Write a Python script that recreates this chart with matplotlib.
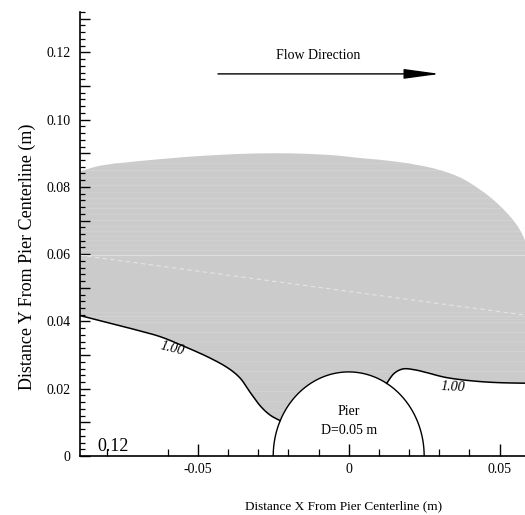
import numpy as np
import matplotlib
matplotlib.use("Agg")
import matplotlib.pyplot as plt
from matplotlib.patches import Polygon

plt.rcParams['font.family'] = ['Liberation Serif', 'DejaVu Serif']

# ---- data ----
upper_x = [-0.0892, -0.0823, -0.0714, -0.0592, -0.0492, -0.0360, -0.0261, -0.0161,
           -0.0050, 0.0037, 0.0120, 0.0203, 0.0290, 0.0369, 0.0435, 0.0491,
           0.0544, 0.0577, 0.0600, 0.0615]
upper_y = [0.0845, 0.0863, 0.0875, 0.0885, 0.0892, 0.0898, 0.0900, 0.0899,
           0.0894, 0.0886, 0.0879, 0.0869, 0.0853, 0.0828, 0.0792, 0.0752,
           0.0702, 0.0655, 0.0595, 0.0500]

left_x = [-0.0892, -0.0823, -0.0713, -0.0625, -0.0548, -0.0470, -0.0404, -0.0360,
          -0.0327, -0.0294, -0.0261, -0.0227]
left_y = [0.0418, 0.0402, 0.0377, 0.0355, 0.0327, 0.0296, 0.0264, 0.0232,
          0.0190, 0.0150, 0.0122, 0.0105]

right_x = [0.0126, 0.0150, 0.0181, 0.0220, 0.0258, 0.0325, 0.0413, 0.0501, 0.0620]
right_y = [0.0216, 0.0245, 0.0259, 0.0256, 0.0248, 0.0233, 0.0223, 0.0218, 0.0216]

pier_d = 0.05

streak_y = [0.0612, 0.0626, 0.0641, 0.0655, 0.0668, 0.0684, 0.0702, 0.0718,
            0.0736, 0.0751, 0.0768, 0.0786, 0.0805, 0.0828, 0.0850, 0.0872,
            0.0398, 0.0407, 0.0416, 0.0428, 0.0368, 0.0342, 0.0312, 0.0283,
            0.0252, 0.0224, 0.0192, 0.0163, 0.0138]

dash_x = [-0.0892, 0.0584]
dash_y = [0.0597, 0.0419]

x_ticks_major = [-0.05, 0.0, 0.05]
x_tick_labels = ['-0.05', '0', '0.05']
x_minor = [-0.08, -0.06, -0.04, -0.03, -0.02, -0.01, 0.01, 0.02, 0.03, 0.04]
y_major = [0.0, 0.01, 0.02, 0.03, 0.04, 0.05, 0.06, 0.07, 0.08, 0.09, 0.10, 0.11, 0.12, 0.13]
y_labels = ['0', '', '0.02', '', '0.04', '', '0.06', '', '0.08', '', '0.10', '', '0.12', '']


def smooth(xs, ys, n=12):
    """Catmull-Rom curve through the given points (drawing only)."""
    p = np.column_stack([xs, ys])
    p = np.vstack([p[0], p, p[-1]])
    out = []
    t = np.linspace(0, 1, n, endpoint=False)[:, None]
    for i in range(1, len(p) - 2):
        p0, p1, p2, p3 = p[i - 1], p[i], p[i + 1], p[i + 2]
        seg = 0.5 * ((2 * p1) + (-p0 + p2) * t + (2 * p0 - 5 * p1 + 4 * p2 - p3) * t ** 2
                     + (-p0 + 3 * p1 - 3 * p2 + p3) * t ** 3)
        out.append(seg)
    out.append(p[-2][None, :])
    out = np.vstack(out)
    return out[:, 0], out[:, 1]


# ---- figure ----
W, H = 525, 515
fig = plt.figure(figsize=(W / 100, H / 100), dpi=100)
ax = fig.add_axes([80 / W, (H - 456) / H, (W - 80) / W, 444 / H])
ax.set_xlim(-0.0890, 0.0584)
ax.set_ylim(0.0, 0.1320)

R = pier_d / 2
th_r = np.arcsin(right_y[0] / R)
th_l = np.pi - np.arcsin(left_y[-1] / R)
th = np.linspace(th_r, th_l, 80)
arc_x = R * np.cos(th)
arc_y = R * np.sin(th)

ux, uy = smooth(upper_x, upper_y)
lx, ly = smooth(left_x, left_y)
rx, ry = smooth(right_x, right_y)

poly_x = list(ux) + [0.0620] + list(rx[::-1]) + list(arc_x) + list(lx[::-1])
poly_y = list(uy) + [0.0216] + list(ry[::-1]) + list(arc_y) + list(ly[::-1])
poly = Polygon(np.column_stack([poly_x, poly_y]), closed=True,
               facecolor='#cbcbcb', edgecolor='none', zorder=1)
ax.add_patch(poly)

for i, yy in enumerate(streak_y):
    ln, = ax.plot([-0.1, 0.07], [yy, yy], color='#d4d4d4' if i % 2 == 0 else '#d0d0d0',
                  lw=0.6, zorder=1.5)
    ln.set_clip_path(poly)
ln, = ax.plot([-0.1, 0.07], [0.0597, 0.0597], color='#dedede', lw=0.8, zorder=1.6)
ln.set_clip_path(poly)
ln, = ax.plot(dash_x, dash_y, color='#e4e4e4', lw=0.8, ls=(0, (4, 3)), zorder=1.6)
ln.set_clip_path(poly)

# boundary lines
ax.plot(lx, ly, color='black', lw=1.1, zorder=3)
ax.plot(rx, ry, color='black', lw=1.1, zorder=3)
th_full = np.linspace(0, np.pi, 200)
ax.plot(R * np.cos(th_full), R * np.sin(th_full), color='black', lw=1.0, zorder=3)

# labels
ax.text(-0.0585, 0.0318, '1.00', style='italic', fontsize=10, rotation=-14,
        ha='center', va='center', zorder=4)
ax.text(0.0346, 0.0204, '1.00', style='italic', fontsize=10, rotation=-3,
        ha='center', va='center', zorder=4)
ax.text(0.0, 0.0132, 'Pier', fontsize=10, ha='center', va='center', zorder=4)
ax.text(0.0, 0.0077, 'D=0.05 m', fontsize=10, ha='center', va='center', zorder=4)
ax.text(-0.0834, 0.0016, '0.12', fontsize=13, ha='left', va='baseline', zorder=4)

# flow direction arrow
ax.annotate('', xy=(0.0302, 0.1136), xytext=(-0.0433, 0.1136),
            arrowprops=dict(arrowstyle='-|>,head_length=2.2,head_width=0.3',
                            color='black', lw=1.0, shrinkA=0, shrinkB=0))
ax.text(-0.0102, 0.1190, 'Flow Direction', fontsize=10, ha='center', va='center')

# axes styling
for s in ['top', 'right']:
    ax.spines[s].set_visible(False)
for s in ['left', 'bottom']:
    ax.spines[s].set_linewidth(1.2)

ax.set_xticks(x_ticks_major)
ax.set_xticklabels(x_tick_labels, fontsize=10)
ax.set_xticks(x_minor, minor=True)
ax.set_yticks(y_major)
ax.set_yticklabels(y_labels, fontsize=10)
ax.set_yticks(np.arange(0, 0.1321, 0.002), minor=True)
ax.tick_params(axis='x', which='major', direction='in', length=9, width=1.0, pad=5)
ax.tick_params(axis='x', which='minor', direction='in', length=5, width=0.9)
ax.tick_params(axis='y', which='major', direction='in', length=7, width=1.0, pad=7)
ax.tick_params(axis='y', which='minor', direction='in', length=3.5, width=0.9)

fig.text(344 / W, 1 - 506 / H, 'Distance X From Pier Centerline (m)', fontsize=9.5,
         ha='center', va='center')
fig.text(27 / W, 1 - 257 / H, 'Distance Y From Pier Centerline (m)', fontsize=13,
         ha='center', va='center', rotation=90)

fig.savefig('out.png', dpi=100)
